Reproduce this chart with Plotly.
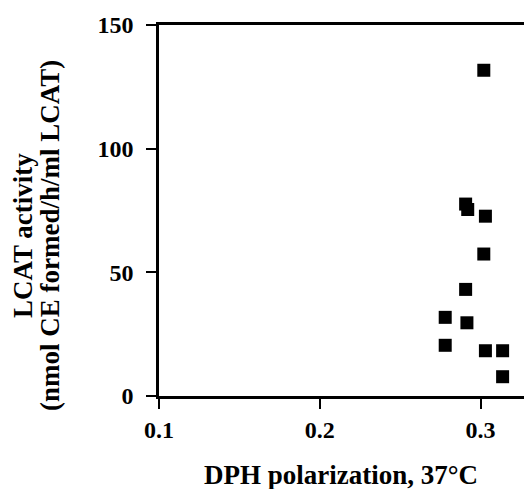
import plotly.graph_objects as go

dph_polarization = [0.278, 0.278, 0.2907, 0.2915, 0.2907, 0.292, 0.303, 0.302, 0.303, 0.3137, 0.3137, 0.302]
lcat_activity = [31.8, 20.5, 43.1, 29.6, 77.6, 75.4, 72.7, 57.4, 18.3, 18.3, 7.8, 131.7]

x_ticks = [0.1, 0.2, 0.3]
x_tick_labels = ["0.1", "0.2", "0.3"]
y_ticks = [0, 50, 100, 150]
y_tick_labels = ["0", "50", "100", "150"]
x_title = "DPH polarization, 37°C"
y_title_lines = ["LCAT activity", "(nmol CE formed/h/ml LCAT)"]

tick_font = dict(family="Liberation Serif", size=24, color="black")
title_font = dict(family="Liberation Serif", size=27, color="black")

W, H = 524, 489
L, R, T, B = 159, 0, 25, 93
pw, ph = W - L - R, H - T - B

def px_x(p):
    return (p - L) / pw

def px_y(p):
    return (H - B - p) / ph

fig = go.Figure(go.Scatter(
    x=dph_polarization, y=lcat_activity, mode="markers",
    marker=dict(symbol="square", size=13, color="black"),
))

fig.update_layout(
    width=W, height=H,
    margin=dict(l=L, r=R, t=T, b=B, autoexpand=False),
    plot_bgcolor="white", paper_bgcolor="white",
    showlegend=False,
    font=tick_font,
)
fig.update_xaxes(
    range=[0.1, 0.327], tickvals=x_ticks, ticktext=["<b>%s</b>" % t for t in x_tick_labels],
    showline=True, linecolor="black", linewidth=2.5, mirror=True,
    ticks="outside", ticklen=10, tickwidth=2, tickcolor="black",
    showgrid=False, zeroline=False, automargin=False, tickfont=tick_font,
)
fig.update_yaxes(
    range=[0, 150], tickvals=y_ticks, ticktext=["<b>%s</b>" % t for t in y_tick_labels],
    showline=True, linecolor="black", linewidth=2.5,
    ticks="outside", ticklen=10, tickwidth=2, tickcolor="black",
    showgrid=False, zeroline=False, automargin=False, tickfont=tick_font,
    ticklabelstandoff=8,
)

fig.add_annotation(
    text="<b>%s</b>" % x_title, xref="paper", yref="paper",
    x=px_x(341), y=px_y(475), xanchor="center", yanchor="middle",
    showarrow=False, font=title_font,
)
for cx, line in zip([23, 50], y_title_lines):
    fig.add_annotation(
        text="<b>%s</b>" % line, xref="paper", yref="paper",
        x=px_x(cx), y=px_y(236), xanchor="center", yanchor="middle",
        textangle=-90, showarrow=False, font=title_font,
    )

fig.write_html(
    "out.html",
    config={"displayModeBar": False},
    post_script="document.body.style.margin='0';document.body.style.overflow='hidden';",
)
